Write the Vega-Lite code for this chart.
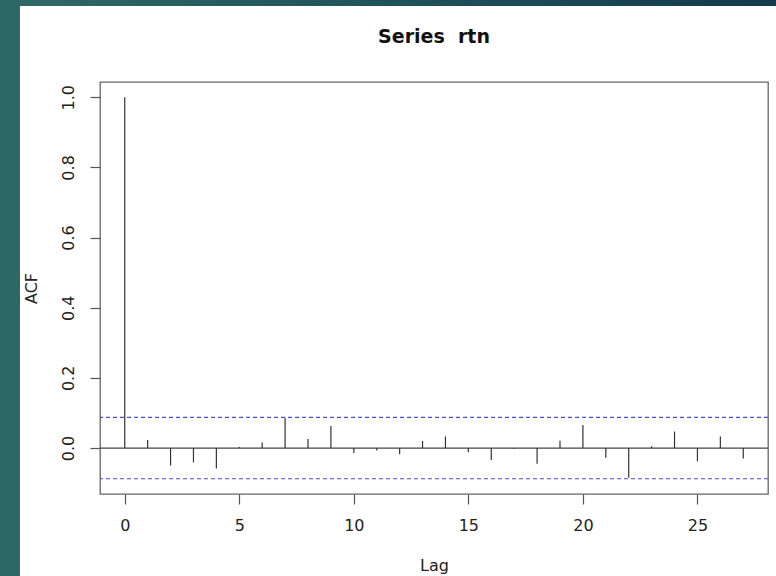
{
  "$schema": "https://vega.github.io/schema/vega-lite/v6.json",
  "padding": 0,
  "background": "white",
  "spacing": 0,
  "hconcat": [
    {
      "width": 20,
      "height": 576,
      "view": {"fill": "#2d6866", "stroke": null},
      "data": {"values": []},
      "mark": "rule",
      "encoding": {}
    },
    {
      "spacing": 21,
      "vconcat": [
        {
          "width": 756,
          "height": 6,
          "view": {
            "fill": {
              "gradient": "linear",
              "x1": 0, "y1": 0, "x2": 1, "y2": 0,
              "stops": [
                {"offset": 0, "color": "#2d6866"},
                {"offset": 1, "color": "#143a4c"}
              ]
            },
            "stroke": null
          },
          "data": {"values": []},
          "mark": "rule",
          "encoding": {}
        },
        {
          "spacing": 0,
          "hconcat": [
            {
              "width": 2,
              "height": 1,
              "view": {"stroke": null},
              "data": {"values": []},
              "mark": "rule",
              "encoding": {}
            },
            {
              "width": 668,
              "height": 412,
              "title": {
                "text": "Series\u00a0\u00a0rtn",
                "font": "DejaVu Sans",
                "fontSize": 19,
                "fontWeight": "bold",
                "color": "#111",
                "anchor": "middle",
                "baseline": "bottom",
                "offset": 16
              },
              "view": {"stroke": "#666", "strokeWidth": 1.3, "fill": "white"},
              "layer": [
                {
                  "data": {"values": [{"level": 0}]},
                  "mark": {"type": "rule", "color": "#444", "strokeWidth": 1.2},
                  "encoding": {
                    "y": {"field": "level", "type": "quantitative", "scale": {"domain": [-0.131, 1.0435], "nice": false, "zero": false}}
                  }
                },
                {
                  "data": {"values": [{"level": 0.0875}, {"level": -0.0875}]},
                  "mark": {"type": "rule", "color": "#4a4ae8", "strokeWidth": 1.1, "strokeDash": [4, 3]},
                  "encoding": {
                    "y": {"field": "level", "type": "quantitative"}
                  }
                },
                {
                  "data": {
                    "values": [
                      {"lag": 0, "acf": 1.0},
                      {"lag": 1, "acf": 0.023},
                      {"lag": 2, "acf": -0.05},
                      {"lag": 3, "acf": -0.041},
                      {"lag": 4, "acf": -0.058},
                      {"lag": 5, "acf": 0.003},
                      {"lag": 6, "acf": 0.016},
                      {"lag": 7, "acf": 0.0855},
                      {"lag": 8, "acf": 0.026},
                      {"lag": 9, "acf": 0.063},
                      {"lag": 10, "acf": -0.014},
                      {"lag": 11, "acf": -0.007},
                      {"lag": 12, "acf": -0.018},
                      {"lag": 13, "acf": 0.02},
                      {"lag": 14, "acf": 0.033},
                      {"lag": 15, "acf": -0.012},
                      {"lag": 16, "acf": -0.034},
                      {"lag": 17, "acf": -0.002},
                      {"lag": 18, "acf": -0.045},
                      {"lag": 19, "acf": 0.021},
                      {"lag": 20, "acf": 0.066},
                      {"lag": 21, "acf": -0.028},
                      {"lag": 22, "acf": -0.085},
                      {"lag": 23, "acf": 0.005},
                      {"lag": 24, "acf": 0.047},
                      {"lag": 25, "acf": -0.038},
                      {"lag": 26, "acf": 0.033},
                      {"lag": 27, "acf": -0.03}
                    ]
                  },
                  "mark": {"type": "rule", "color": "#333", "strokeWidth": 1.2},
                  "encoding": {
                    "x": {
                      "field": "lag",
                      "type": "quantitative",
                      "scale": {"domain": [-1.08, 28.08], "nice": false, "zero": false},
                      "axis": {
                        "title": "Lag",
                        "values": [0, 5, 10, 15, 20, 25],
                        "labelPadding": 13,
                        "titlePadding": 24
                      }
                    },
                    "y": {
                      "field": "acf",
                      "type": "quantitative",
                      "axis": {
                        "title": "ACF",
                        "values": [0, 0.2, 0.4, 0.6, 0.8, 1.0],
                        "format": ".1f",
                        "labelAngle": -90,
                        "labelAlign": "center",
                        "labelBaseline": "bottom",
                        "labelPadding": 14,
                        "minExtent": 40,
                        "maxExtent": 40,
                        "titlePadding": 21
                      }
                    },
                    "y2": {"datum": 0}
                  }
                }
              ]
            }
          ]
        }
      ]
    }
  ],
  "config": {
    "font": "DejaVu Sans",
    "axis": {
      "grid": false,
      "domain": false,
      "tickSize": 10,
      "tickColor": "#555",
      "tickWidth": 1.2,
      "labelFont": "DejaVu Sans",
      "labelFontSize": 16,
      "labelColor": "#222",
      "titleFont": "DejaVu Sans",
      "titleFontSize": 16,
      "titleFontWeight": "normal",
      "titleColor": "#222"
    }
  }
}
